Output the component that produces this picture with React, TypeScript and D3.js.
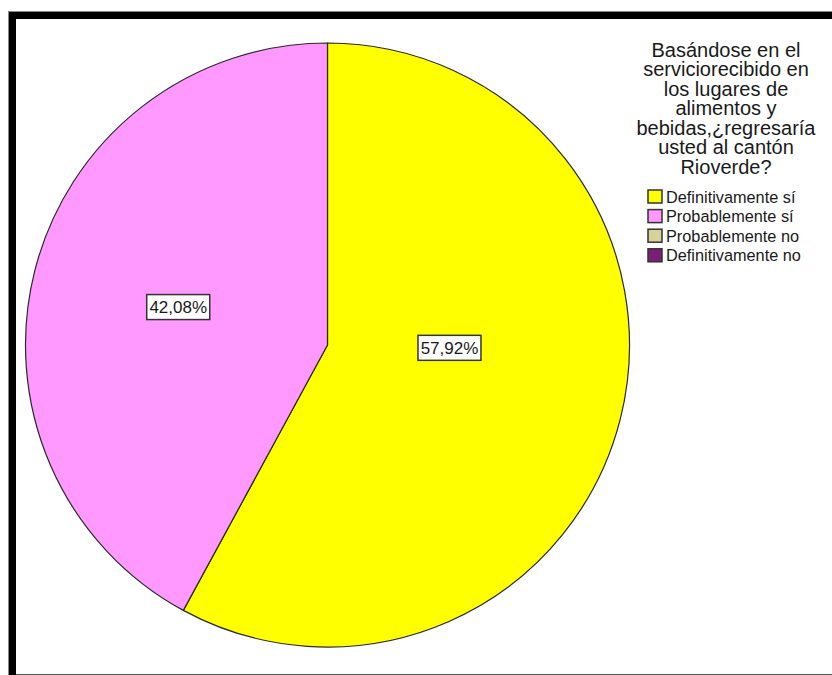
import React from "react";
import * as d3 from "d3";

const titleLines = [
  "Basándose en el",
  "serviciorecibido en",
  "los lugares de",
  "alimentos y",
  "bebidas,¿regresaría",
  "usted al cantón",
  "Rioverde?",
];
const categories = ["Definitivamente sí", "Probablemente sí", "Probablemente no", "Definitivamente no"];
const values = [57.92, 42.08, 0, 0];
const colors = ["#FFFF00", "#FF99FF", "#D6D29A", "#7A1E78"];

const W = 832;
const H = 675;
const FONT = "'Liberation Sans', Arial, sans-serif";

export default function App() {
  const cx = 327.5;
  const cy = 345;
  const r = 302;

  const pie = d3
    .pie<number>()
    .sort(null)
    .value((d) => d)(values);
  const arc = d3.arc<d3.PieArcDatum<number>>().innerRadius(0).outerRadius(r);

  const fmt = (v: number) => v.toFixed(2).replace(".", ",") + "%";

  const labelPos = (p: d3.PieArcDatum<number>) => {
    const span = p.endAngle - p.startAngle;
    const big = span > Math.PI;
    const a = p.startAngle + span * (big ? 0.438 : 0.5);
    const k = big ? 0.404 : 0.51;
    return [Math.sin(a) * r * k, -Math.cos(a) * r * k];
  };

  const legendX = 648;
  const legendY0 = 190;
  const legendStep = 19.6;

  return (
    <svg
      width={W}
      height={H}
      style={{ position: "absolute", left: 0, top: 0, background: "#fff" }}
    >
      {/* frame */}
      <rect x={8} y={11} width={W} height={H} fill="#888" />
      <rect x={9} y={12} width={W} height={H} fill="#000" />
      <rect x={16} y={19} width={W} height={655} fill="#fff" />
      <line x1={16} x2={W} y1={674.5} y2={674.5} stroke="#555" strokeWidth={1} />

      <g transform={`translate(${cx},${cy})`}>
        {pie.map((p, i) =>
          p.value > 0 ? (
            <path key={i} d={arc(p) || ""} fill={colors[i]} stroke="#2a2a2a" strokeWidth={1.2} strokeLinejoin="round" />
          ) : null
        )}
        {pie.map((p, i) => {
          if (p.value <= 0) return null;
          const [lx, ly] = labelPos(p);
          const bw = 63;
          const bh = 25;
          return (
            <g key={"l" + i} transform={`translate(${lx},${ly})`}>
              <rect x={-bw / 2} y={-bh / 2} width={bw} height={bh} fill="#fff" stroke="#333" strokeWidth={1.5} />
              <text
                x={0}
                y={6}
                textAnchor="middle"
                fontFamily={FONT}
                fontSize={17}
                fill="#1a1a1a"
              >
                {fmt(p.value)}
              </text>
            </g>
          );
        })}
      </g>

      {/* legend title */}
      <text fontFamily={FONT} fontSize={20} fill="#1a1a1a" textAnchor="middle">
        {titleLines.map((t, i) => (
          <tspan key={i} x={726} y={56.5 + i * 19.5}>
            {t}
          </tspan>
        ))}
      </text>

      {categories.map((c, i) => (
        <g key={c} transform={`translate(${legendX},${legendY0 + i * legendStep})`}>
          <rect x={0} y={0} width={14} height={13} fill={colors[i]} stroke="#333" strokeWidth={1.5} />
          <text x={18} y={12.5} fontFamily={FONT} fontSize={16.3} fill="#1a1a1a">
            {c}
          </text>
        </g>
      ))}
    </svg>
  );
}
